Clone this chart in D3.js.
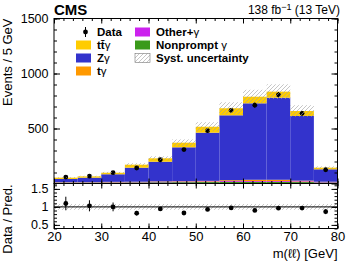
<!DOCTYPE html>
<html>
<head>
<meta charset="utf-8">
<script src="https://cdn.jsdelivr.net/npm/d3@7"></script>
<style>
  body { margin: 0; background: #fff; }
  text { font-family: "Liberation Sans", Arial, sans-serif; }
</style>
</head>
<body>
<script>
const width = 349;
const height = 261;

// bins of m(ll), 5 GeV wide
const binEdges = [20, 25, 30, 35, 40, 45, 50, 55, 60, 65, 70, 75, 80];

// stacked predictions (events / bin), bottom to top
const nonprompt  = [8, 8, 9, 10, 11, 12, 13, 14, 14, 14, 13, 10];
const otherGamma = [2, 2, 3, 3, 4, 5, 6, 8, 8, 8, 7, 4];
const tGamma     = [2, 2, 3, 3, 4, 4, 5, 8, 12, 12, 6, 2];
const zGamma     = [29, 41, 69, 128, 179, 308, 438, 590, 695, 746, 588, 113];
const ttGamma    = [12, 12, 14, 27, 31, 42, 54, 64, 60, 55, 45, 15];

// observed
const data    = [58, 67, 98, 141, 216, 308, 480, 665, 712, 806, 638, 125];
const dataErr = [10, 10, 12, 11, 12, 14, 18, 22, 24, 26, 22, 10];

const systRel = 0.08;

const yTicks = [0, 500, 1000, 1500];
const ratioTicks = [0.5, 1, 1.5];
const xTicks = [20, 30, 40, 50, 60, 70, 80];

const colors = {
  np: "#3a9a1a",
  other: "#cc22ee",
  tg: "#ff9900",
  zg: "#3333cc",
  ttg: "#ffcc00"
};

const svg = d3.select("body").append("svg")
  .attr("width", width)
  .attr("height", height);

const defs = svg.append("defs");
const hatch = defs.append("pattern")
  .attr("id", "hatch")
  .attr("patternUnits", "userSpaceOnUse")
  .attr("width", 4)
  .attr("height", 4);
hatch.append("path")
  .attr("d", "M-1,1 l2,-2 M0,4 l4,-4 M3,5 l2,-2")
  .attr("stroke", "#a0a0a0")
  .attr("stroke-width", 0.6);

const left = 54, right = 337.5;
const mainTop = 18.5, mainBottom = 183.5, ratioBottom = 228.5;

const x = d3.scaleLinear().domain([20, 80]).range([left, right]);
const y = d3.scaleLinear().domain([0, 1500]).range([mainBottom, mainTop]);
const r = d3.scaleLinear().domain([0.4, 1.65]).range([ratioBottom, mainBottom]);

const rows = binEdges.slice(0, -1).map((lo, i) => ({
  lo: lo, hi: binEdges[i + 1],
  np: nonprompt[i], other: otherGamma[i], tg: tGamma[i], zg: zGamma[i], ttg: ttGamma[i],
  data: data[i], err: dataErr[i]
}));
rows.forEach(d => d.total = d.np + d.other + d.tg + d.zg + d.ttg);

const keys = ["np", "other", "tg", "zg", "ttg"];
const series = d3.stack().keys(keys)(rows);

// stacked histogram
svg.append("g").selectAll("g")
  .data(series)
  .join("g")
    .attr("fill", s => colors[s.key])
  .selectAll("rect")
  .data(s => s)
  .join("rect")
    .attr("x", d => x(d.data.lo))
    .attr("width", d => x(d.data.hi) - x(d.data.lo))
    .attr("y", d => y(d[1]))
    .attr("height", d => y(d[0]) - y(d[1]));

// data points
const mid = d => (d.lo + d.hi) / 2;
const pts = svg.append("g");
pts.selectAll("line")
  .data(rows)
  .join("line")
    .attr("x1", d => x(mid(d))).attr("x2", d => x(mid(d)))
    .attr("y1", d => y(d.data - d.err)).attr("y2", d => y(d.data + d.err))
    .attr("stroke", "#000").attr("stroke-width", 1);
pts.selectAll("circle")
  .data(rows)
  .join("circle")
    .attr("cx", d => x(mid(d)))
    .attr("cy", d => y(d.data))
    .attr("r", 2.4)
    .attr("fill", "#000");

// syst band
svg.append("g").selectAll("rect")
  .data(rows)
  .join("rect")
    .attr("x", d => x(d.lo))
    .attr("width", d => x(d.hi) - x(d.lo))
    .attr("y", d => y(d.total * (1 + systRel)))
    .attr("height", d => y(d.total * (1 - systRel)) - y(d.total * (1 + systRel)))
    .attr("fill", "url(#hatch)");

// ratio pane
svg.append("g").selectAll("rect")
  .data(rows)
  .join("rect")
    .attr("x", d => x(d.lo))
    .attr("width", d => x(d.hi) - x(d.lo))
    .attr("y", r(1 + systRel))
    .attr("height", r(1 - systRel) - r(1 + systRel))
    .attr("fill", "url(#hatch)");

svg.append("line")
  .attr("x1", left).attr("x2", right)
  .attr("y1", r(1)).attr("y2", r(1))
  .attr("stroke", "#000").attr("stroke-width", 1);

const rp = svg.append("g");
rp.selectAll("line")
  .data(rows)
  .join("line")
    .attr("x1", d => x(mid(d))).attr("x2", d => x(mid(d)))
    .attr("y1", d => r((d.data - d.err) / d.total))
    .attr("y2", d => r((d.data + d.err) / d.total))
    .attr("stroke", "#000").attr("stroke-width", 1);
rp.selectAll("circle")
  .data(rows)
  .join("circle")
    .attr("cx", d => x(mid(d)))
    .attr("cy", d => r(d.data / d.total))
    .attr("r", 2.4)
    .attr("fill", "#000");

// axes (ticks point inward, ROOT style)
function tidy(g, size) {
  g.select(".domain").remove();
  g.selectAll(".tick line").attr("stroke", "#000").attr("stroke-width", 1);
  g.selectAll(".tick text").attr("font-size", size || 12.5).attr("fill", "#000");
}
const minorY = d3.range(0, 1501, 100);
const minorR = d3.range(4, 17).map(v => v / 10);
const minorX = d3.range(20, 81, 2);

svg.append("g").attr("transform", `translate(${left},0)`)
  .call(d3.axisLeft(y).tickValues(yTicks.filter(v => v > 0)).tickSize(-6).tickPadding(5.5).tickFormat(d3.format("d")))
  .call(tidy);
svg.append("g").attr("transform", `translate(${left},0)`)
  .call(d3.axisLeft(y).tickValues(minorY).tickSize(-3).tickFormat(""))
  .call(tidy);
svg.append("g").attr("transform", `translate(${right},0)`)
  .call(d3.axisRight(y).tickValues(yTicks).tickSize(-6).tickFormat(""))
  .call(tidy);
svg.append("g").attr("transform", `translate(${right},0)`)
  .call(d3.axisRight(y).tickValues(minorY).tickSize(-3).tickFormat(""))
  .call(tidy);

svg.append("g").attr("transform", `translate(0,${mainTop})`)
  .call(d3.axisTop(x).tickValues(xTicks).tickSize(-5).tickFormat(""))
  .call(tidy);
svg.append("g").attr("transform", `translate(0,${mainTop})`)
  .call(d3.axisTop(x).tickValues(minorX).tickSize(-2.5).tickFormat(""))
  .call(tidy);
svg.append("g").attr("transform", `translate(0,${mainBottom})`)
  .call(d3.axisBottom(x).tickValues(xTicks).tickSize(-5).tickFormat(""))
  .call(tidy);
svg.append("g").attr("transform", `translate(0,${mainBottom})`)
  .call(d3.axisBottom(x).tickValues(minorX).tickSize(-2.5).tickFormat(""))
  .call(tidy);

svg.append("g").attr("transform", `translate(${left},0)`)
  .call(d3.axisLeft(r).tickValues(ratioTicks).tickSize(-6).tickPadding(5.5).tickFormat(d3.format("~g")))
  .call(tidy);
svg.append("g").attr("transform", `translate(${left},0)`)
  .call(d3.axisLeft(r).tickValues(minorR).tickSize(-3).tickFormat(""))
  .call(tidy);
svg.append("g").attr("transform", `translate(${right},0)`)
  .call(d3.axisRight(r).tickValues(ratioTicks).tickSize(-6).tickFormat(""))
  .call(tidy);
svg.append("g").attr("transform", `translate(${right},0)`)
  .call(d3.axisRight(r).tickValues(minorR).tickSize(-3).tickFormat(""))
  .call(tidy);
svg.append("g").attr("transform", `translate(0,${mainBottom})`)
  .call(d3.axisTop(x).tickValues(xTicks).tickSize(-5).tickFormat(""))
  .call(tidy);
svg.append("g").attr("transform", `translate(0,${mainBottom})`)
  .call(d3.axisTop(x).tickValues(minorX).tickSize(-2.5).tickFormat(""))
  .call(tidy);
svg.append("g").attr("transform", `translate(0,${ratioBottom})`)
  .call(d3.axisBottom(x).tickValues(xTicks).tickSize(-5).tickPadding(3))
  .call(tidy, 13);
svg.append("g").attr("transform", `translate(0,${ratioBottom})`)
  .call(d3.axisBottom(x).tickValues(minorX).tickSize(-2.5).tickFormat(""))
  .call(tidy);

// frames
svg.append("rect")
  .attr("x", left).attr("y", mainTop)
  .attr("width", right - left).attr("height", mainBottom - mainTop)
  .attr("fill", "none").attr("stroke", "#000").attr("stroke-width", 1);
svg.append("rect")
  .attr("x", left).attr("y", mainBottom)
  .attr("width", right - left).attr("height", ratioBottom - mainBottom)
  .attr("fill", "none").attr("stroke", "#000").attr("stroke-width", 1);

// titles
svg.append("text")
  .attr("x", left).attr("y", 15)
  .attr("font-size", 15).attr("font-weight", "bold")
  .text("CMS");

const lumi = svg.append("text")
  .attr("x", 340).attr("y", 13.5)
  .attr("text-anchor", "end")
  .attr("font-size", 12);
lumi.append("tspan").text("138 fb");
lumi.append("tspan").attr("font-size", 9).attr("dy", -4).text("\u22121");
lumi.append("tspan").attr("dy", 4).text(" (13 TeV)");

svg.append("text")
  .attr("transform", `translate(12,${mainTop}) rotate(-90)`)
  .attr("text-anchor", "end")
  .attr("font-size", 13)
  .text("Events / 5 GeV");

svg.append("text")
  .attr("transform", `translate(12,${(mainBottom + ratioBottom) / 2 + 13}) rotate(-90)`)
  .attr("text-anchor", "middle")
  .attr("font-size", 13)
  .text("Data / Pred.");

svg.append("text")
  .attr("x", right).attr("y", 258)
  .attr("text-anchor", "end")
  .attr("font-size", 13)
  .text("m(\u2113\u2113) [GeV]");

// legend
const legendRows = [
  { col: 0, row: 0, kind: "data", label: ["Data", ""] },
  { col: 0, row: 1, kind: "ttg", label: ["t\u0074\u0304", "\u03b3"] },
  { col: 0, row: 2, kind: "zg", label: ["Z", "\u03b3"] },
  { col: 0, row: 3, kind: "tg", label: ["t", "\u03b3"] },
  { col: 1, row: 0, kind: "other", label: ["Other+", "\u03b3"] },
  { col: 1, row: 1, kind: "np", label: ["Nonprompt ", "\u03b3"] },
  { col: 1, row: 2, kind: "syst", label: ["Syst. uncertainty", ""] }
];
const colX = [76, 135];
const rowY = [32, 45, 58, 71];

const leg = svg.append("g").selectAll("g")
  .data(legendRows)
  .join("g")
    .attr("transform", d => `translate(${colX[d.col]},${rowY[d.row]})`);

leg.filter(d => d.kind === "data").each(function() {
  const g = d3.select(this);
  g.append("line").attr("x1", 9.5).attr("x2", 9.5).attr("y1", -5).attr("y2", 5)
    .attr("stroke", "#000").attr("stroke-width", 1);
  g.append("circle").attr("cx", 9.5).attr("cy", 0).attr("r", 2.4).attr("fill", "#000");
});
leg.filter(d => d.kind !== "data").append("rect")
  .attr("x", 0).attr("y", -4.5)
  .attr("width", 15).attr("height", 9)
  .attr("fill", d => d.kind === "syst" ? "url(#hatch)" : colors[d.kind])
  .attr("stroke", d => d.kind === "syst" ? "#777" : "none")
  .attr("stroke-width", 0.6);

const lt = leg.append("text")
  .attr("x", 21).attr("y", 4)
  .attr("font-size", 11.5)
  .attr("font-weight", "bold");
lt.append("tspan").text(d => d.label[0]);
lt.append("tspan").attr("font-weight", "normal").text(d => d.label[1]);
</script>
</body>
</html>
